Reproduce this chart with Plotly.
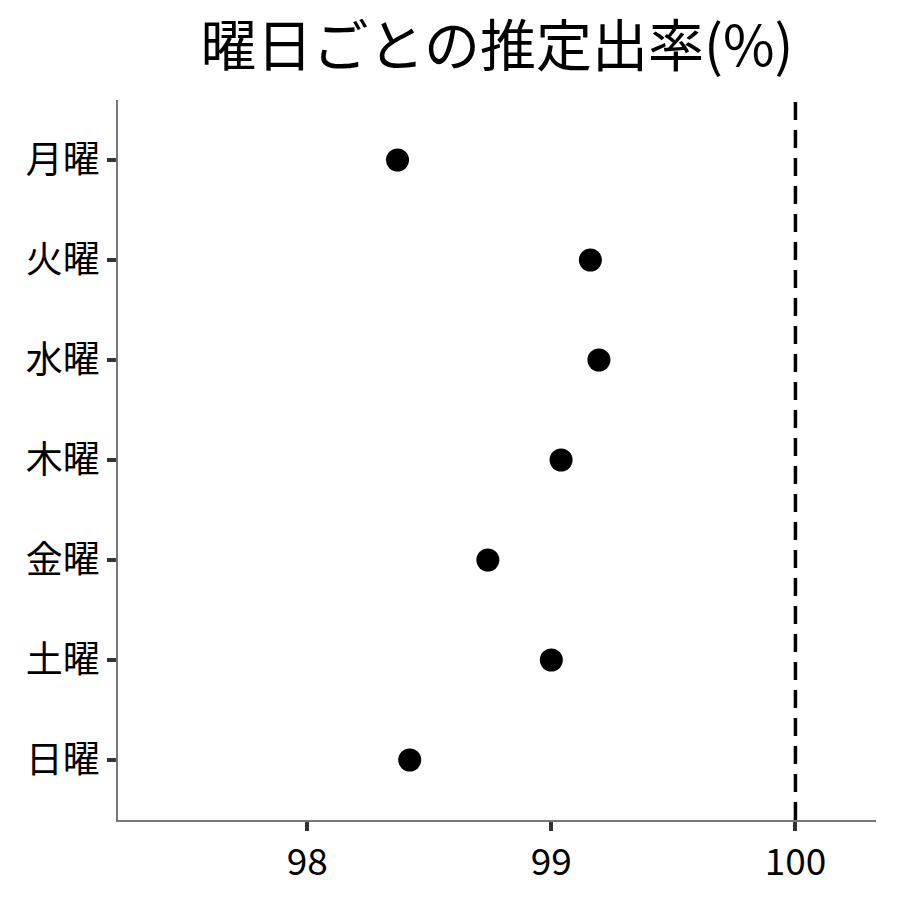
import plotly.graph_objects as go

days = ["月曜", "火曜", "水曜", "木曜", "金曜", "土曜", "日曜"]
rates = [98.37, 99.16, 99.195, 99.04, 98.74, 99.0, 98.42]
ref_value = 100
x_ticks = [98, 99, 100]

font = "Noto Sans CJK JP"

fig = go.Figure()

fig.add_trace(
    go.Scatter(
        x=rates,
        y=days,
        mode="markers",
        marker=dict(size=23, color="black"),
        showlegend=False
    )
)

fig.add_vline(x=ref_value, line=dict(color="black", width=3.5, dash="18px,10px"))

fig.update_layout(
    width=900,
    height=900,
    plot_bgcolor="white",
    paper_bgcolor="white",
    font=dict(family=font, color="black"),
    margin=dict(l=110, r=32, t=92, b=88),
    title=dict(
        text="曜日ごとの推定出率(%)",
        font=dict(family=font, size=56, color="black"),
        x=0.5,
        xref="paper",
        xanchor="center",
        y=0.957,
        yanchor="middle"
    )
)

fig.update_xaxes(
    range=[97.225, 100.33],
    tickvals=x_ticks,
    ticks="outside",
    ticklen=9,
    tickwidth=3.5,
    tickcolor="#333333",
    tickfont=dict(size=37, family=font, color="black"),
    showline=True,
    linecolor="#777777",
    linewidth=1.5,
    showgrid=False,
    zeroline=False
)

fig.update_yaxes(
    categoryorder="array",
    categoryarray=days,
    range=[6.6, -0.6],
    ticks="outside",
    ticklen=9,
    tickwidth=3.5,
    tickcolor="#333333",
    tickfont=dict(size=37, family=font, color="black"),
    showline=True,
    linecolor="#777777",
    linewidth=1.5,
    showgrid=False,
    zeroline=False
)

fig.write_html("out.html")
